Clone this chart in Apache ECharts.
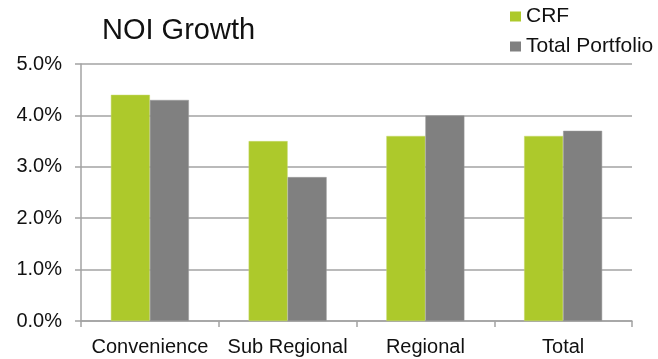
<!DOCTYPE html>
<html>
<head>
<meta charset="utf-8">
<title>NOI Growth</title>
<script src="https://cdn.jsdelivr.net/npm/echarts@6/dist/echarts.min.js"></script>
<style>
  html, body { margin: 0; padding: 0; background: #fff; }
  #chart { width: 658px; height: 359px; }
</style>
</head>
<body>
<div id="chart"></div>
<script>
// data (percent)
const categories = ['Convenience', 'Sub Regional', 'Regional', 'Total'];
const crfValues = [4.4, 3.5, 3.6, 3.6];
const portfolioValues = [4.3, 2.8, 4.0, 3.7];
const seriesNames = ['CRF', 'Total Portfolio'];

const FONT = '"Liberation Sans", Arial, sans-serif';
const GRID_COLOR = '#a3a3a3';

const chart = echarts.init(document.getElementById('chart'), null, { renderer: 'canvas' });

const option = {
  animation: false,
  color: ['#adc92b', '#808080'],
  textStyle: { fontFamily: FONT, color: '#111' },
  title: {
    text: 'NOI Growth',
    left: 102,
    top: 16,
    padding: 0,
    textStyle: { fontFamily: FONT, fontSize: 29, fontWeight: 'normal', color: '#111' },
  },
  legend: {
    orient: 'vertical',
    left: 510,
    top: 6,
    padding: 0,
    itemWidth: 11,
    itemHeight: 10,
    itemGap: 9,
    icon: 'rect',
    itemStyle: { borderWidth: 0 },
    textStyle: { fontFamily: FONT, fontSize: 21, color: '#111' },
    data: seriesNames,
  },
  grid: {
    left: 81,
    right: 26,
    top: 64,
    bottom: 38,
    containLabel: false,
  },
  xAxis: {
    type: 'category',
    data: categories,
    axisLine: { lineStyle: { color: GRID_COLOR, width: 1.5 } },
    axisTick: { show: true, length: 6, alignWithLabel: false, lineStyle: { color: GRID_COLOR, width: 1.5 } },
    axisLabel: { fontFamily: FONT, fontSize: 20, color: '#111', margin: 16, interval: 0 },
    splitLine: { show: false },
  },
  yAxis: {
    type: 'value',
    min: 0,
    max: 5,
    interval: 1,
    axisLine: { show: true, lineStyle: { color: GRID_COLOR, width: 1.5 } },
    axisTick: { show: true, length: 6, lineStyle: { color: GRID_COLOR, width: 1.5 } },
    axisLabel: {
      fontFamily: FONT,
      fontSize: 20,
      color: '#111',
      margin: 19,
      formatter: (v) => v.toFixed(1) + '%',
    },
    splitLine: { show: true, lineStyle: { color: GRID_COLOR, width: 1.5 } },
  },
  series: [
    {
      name: seriesNames[0],
      type: 'bar',
      data: crfValues,
      barWidth: 39,
      barGap: '0%',
      itemStyle: { borderColor: '#c4d96a', borderWidth: 0.5 },
    },
    {
      name: seriesNames[1],
      type: 'bar',
      data: portfolioValues,
      barWidth: 39,
      barGap: '0%',
      itemStyle: { borderColor: '#9a9a9a', borderWidth: 0.5 },
    },
  ],
};

chart.setOption(option);
</script>
</body>
</html>
